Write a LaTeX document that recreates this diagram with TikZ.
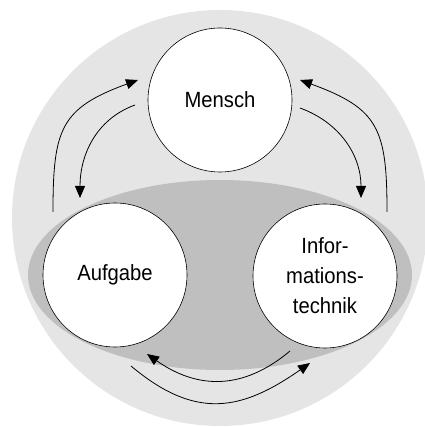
\documentclass[tikz,border=0pt]{standalone}
\usepackage{fontspec}
\setmainfont{Liberation Sans}[FakeStretch=0.92]
\usetikzlibrary{arrows.meta}
\tikzset{
    ring/.style = {
        fill = black!10,
        },
    core/.style = {
        fill = black!25,
        },
    part/.style = {
        draw,
        circle,
        fill = white,
        line width = 0.6pt,
        minimum size = 144pt,
        inner sep = 0pt,
        font = \fontsize{22}{30}\selectfont,
        align = center,
        },
    flow/.style = {
        line width = 0.8pt,
        -{Triangle[length=12pt,width=10pt]},
        },
}
\begin{document}
\begin{tikzpicture}[x=1pt, y=1pt]
            \useasboundingbox (0,0) rectangle (424,427);
            \fill[ring] (220,209) circle (208);
            \fill[core] (220,152) ellipse (192 and 95);

            \node[part] (mensch) at (220,327) {Mensch};
            \node[part] (aufgabe) at (115,152) {Aufgabe};
            \node[part] (technik) at (325,151) {Infor-\\mations-\\technik};

            \coordinate (lo1) at (53,215);
            \coordinate (lo2) at (138,347);
            \coordinate (li1) at (135,322);
            \coordinate (li2) at (80,229);
            \coordinate (ro1) at (387,215);
            \coordinate (ro2) at (300,347);
            \coordinate (ri1) at (300,319);
            \coordinate (ri2) at (361,229);
            \coordinate (bi1) at (290,76);
            \coordinate (bi2) at (147,73);
            \coordinate (bo1) at (131,61);
            \coordinate (bo2) at (310,64);

            \path (lo1) edge[flow, out=90, in=200, looseness=1.35] (lo2);
            \path (li1) edge[flow, out=200, in=90] (li2);
            \path (ro1) edge[flow, out=90, in=-20, looseness=1.35] (ro2);
            \path (ri1) edge[flow, out=-20, in=90] (ri2);
            \path (bi1) edge[flow, out=220, in=-35, looseness=1.1] (bi2);
            \path (bo1) edge[flow, out=-40, in=215, looseness=1.2] (bo2);
        \end{tikzpicture}
\end{document}
